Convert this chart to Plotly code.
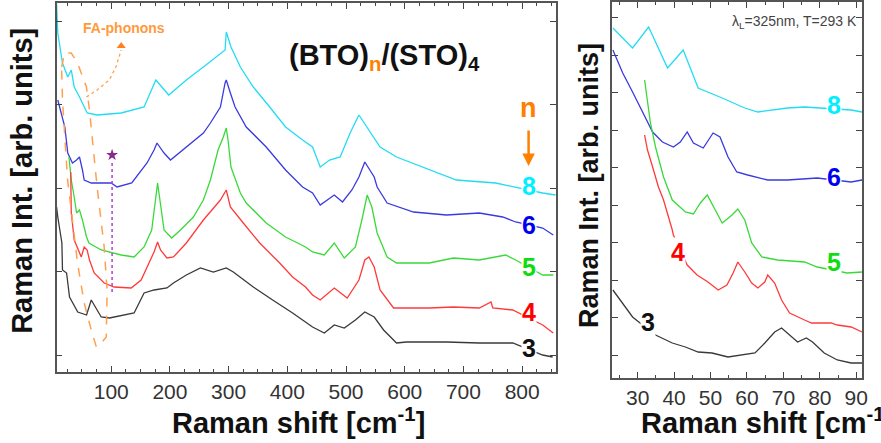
import plotly.graph_objects as go

FONT = "Liberation Sans, Arial, sans-serif"

# ---------------- Left panel data (Raman shift cm^-1, intensity arb.) ----------------
n8_L_x = [7, 8, 9, 17, 26, 32, 37, 46, 59, 76, 117, 156, 168, 176, 198, 228, 257, 286, 294, 296, 304, 320, 342, 370, 397, 426, 443, 456, 472, 490, 507, 522, 536, 558, 586, 642, 688, 755, 794, 835, 857]
n8_L_y = [368, 350, 339, 309, 295, 302, 285, 275, 259, 257, 259, 265, 282, 292, 277, 292, 305, 319, 322, 340, 325, 305, 285, 265, 245, 232, 225, 205, 212, 215, 239, 257, 245, 225, 215, 202, 192, 189, 184, 179, 177]

n6_L_x = [9, 21, 26, 34, 41, 46, 51, 54, 66, 100, 110, 135, 161, 173, 178, 190, 201, 228, 257, 269, 286, 294, 296, 303, 311, 330, 364, 397, 426, 443, 456, 480, 494, 510, 522, 532, 548, 553, 570, 615, 671, 727, 767, 789, 835, 853]
n6_L_y = [272, 245, 219, 209, 212, 215, 202, 192, 189, 189, 185, 189, 209, 222, 229, 219, 212, 225, 239, 249, 265, 289, 292, 279, 265, 245, 225, 202, 185, 179, 167, 177, 170, 182, 195, 210, 195, 185, 169, 160, 157, 159, 155, 150, 144, 137]

n5_L_x = [28, 32, 37, 41, 46, 51, 58, 62, 83, 117, 139, 156, 169, 176, 179, 183, 190, 203, 218, 240, 257, 269, 282, 291, 296, 299, 304, 320, 330, 364, 397, 431, 443, 463, 480, 497, 516, 527, 536, 544, 553, 570, 586, 642, 683, 727, 772, 789, 835, 853]
n5_L_y = [215, 192, 175, 159, 162, 152, 135, 129, 122, 117, 115, 125, 142, 172, 189, 172, 142, 134, 142, 155, 172, 192, 222, 235, 244, 232, 205, 179, 169, 149, 135, 125, 120, 117, 129, 114, 125, 152, 177, 165, 139, 115, 109, 109, 114, 112, 117, 112, 97, 97]

n4_L_x = [31, 32, 37, 49, 54, 59, 63, 71, 88, 105, 134, 151, 173, 179, 184, 195, 206, 228, 257, 286, 296, 303, 325, 353, 387, 409, 431, 443, 456, 480, 502, 522, 532, 539, 548, 558, 581, 642, 683, 727, 747, 750, 784, 835, 853]
n4_L_y = [200, 159, 132, 115, 125, 122, 112, 99, 89, 85, 84, 92, 120, 130, 122, 114, 115, 129, 152, 172, 182, 165, 149, 129, 109, 95, 85, 77, 72, 84, 74, 92, 112, 115, 105, 82, 64, 64, 65, 64, 70, 64, 62, 47, 39]

n3_L_x = [7, 9, 16, 17, 24, 29, 43, 58, 66, 71, 83, 97, 139, 156, 173, 195, 206, 228, 252, 274, 296, 308, 342, 375, 409, 443, 463, 480, 497, 516, 532, 548, 564, 586, 603, 671, 727, 784, 835, 852]
n3_L_y = [165, 155, 129, 102, 99, 75, 60, 57, 72, 67, 55, 54, 59, 79, 82, 84, 89, 97, 104, 100, 104, 100, 85, 72, 59, 45, 39, 47, 44, 52, 60, 55, 42, 29, 30, 30, 29, 29, 17, 15]

# FA-phonon marker ellipse and pointer (left panel units)
fa_ellipse_x = [15.5, 20.6, 32, 42.6, 57.8, 63, 68, 76, 88, 93, 91.6, 83, 74.7, 66, 54, 42.6, 34, 25.7, 17, 15.5]
fa_ellipse_y = [305, 319, 319, 309, 285, 262, 232, 185, 125, 82, 35, 29, 25, 42, 69, 109, 152, 192, 272, 305]
fa_pointer_x = [57.8, 76, 96.6, 108, 117]
fa_pointer_y = [275, 282, 292, 305, 322]
star_x = [101.5, 101.5]
star_y = [80, 212]

# ---------------- Right panel data ----------------
n8_R_x = [23.2, 28.6, 33.0, 38.2, 42.5, 46.6, 53.2, 59.4, 63.0, 71.1, 75.8, 80.4, 88.6, 91.6]
n8_R_y = [350, 330, 351, 310, 328, 290, 280, 270, 266, 270, 271, 270, 268, 266]

n6_R_x = [23.2, 25.9, 28.6, 31.4, 34.1, 36.8, 39.8, 41.7, 43.6, 45.3, 48.0, 50.7, 52.6, 54.8, 57.2, 60.2, 65.7, 71.1, 79.3, 88.6, 91.6]
n6_R_y = [328, 305, 286, 265, 246, 236, 231, 236, 246, 235, 230, 245, 241, 221, 206, 203, 198, 198, 200, 196, 198]

n5_R_x = [31.9, 32.7, 33.5, 34.9, 37.1, 39.5, 40.4, 43.1, 45.3, 47.2, 49.1, 51.3, 53.2, 55.9, 57.5, 59.4, 61.3, 64.1, 68.4, 75.8, 79.3, 87.5, 91.6]
n5_R_y = [298, 278, 255, 231, 201, 178, 175, 166, 164, 175, 183, 168, 155, 163, 169, 158, 135, 121, 118, 116, 111, 105, 106]

n4_R_x = [31.9, 32.7, 34.1, 35.7, 37.1, 38.2, 39.5, 39.8, 43.6, 46.3, 49.3, 52.1, 54.5, 56.2, 57.5, 59.4, 61.3, 63.0, 64.9, 65.7, 67.6, 69.5, 71.7, 75.8, 77.7, 83.1, 84.8, 88.6, 91.6]
n4_R_y = [243, 228, 211, 191, 178, 165, 148, 143, 113, 103, 96, 88, 93, 105, 116, 106, 95, 90, 96, 103, 95, 78, 65, 58, 55, 55, 53, 51, 46]

n3_R_x = [23.2, 25.9, 28.6, 30.3, 34.9, 39.5, 43.1, 46.6, 50.4, 54.8, 58.6, 62.2, 64.9, 67.6, 69.5, 71.1, 73.9, 76.3, 78.0, 81.2, 84.8, 88.6, 91.6]
n3_R_y = [88, 75, 61, 56, 43, 35, 31, 26, 25, 21, 23, 25, 35, 46, 50, 45, 36, 40, 36, 25, 18, 15, 15]

labels = ["8", "6", "5", "4", "3"]
line_colors = ["#22dcf2", "#3a3ae0", "#3ad93a", "#ff3a3a", "#3a3a3a"]
label_colors = ["#00f0ff", "#0000f0", "#10dd10", "#ff0000", "#111111"]

fig = go.Figure()

left_series = [(n8_L_x, n8_L_y), (n6_L_x, n6_L_y), (n5_L_x, n5_L_y), (n4_L_x, n4_L_y), (n3_L_x, n3_L_y)]
right_series = [(n8_R_x, n8_R_y), (n6_R_x, n6_R_y), (n5_R_x, n5_R_y), (n4_R_x, n4_R_y), (n3_R_x, n3_R_y)]

for (xs, ys), col in zip(left_series, line_colors):
    fig.add_trace(go.Scatter(x=xs, y=ys, mode="lines", line=dict(color=col, width=1.3),
                             xaxis="x", yaxis="y", showlegend=False, hoverinfo="skip"))
for (xs, ys), col in zip(right_series, line_colors):
    fig.add_trace(go.Scatter(x=xs, y=ys, mode="lines", line=dict(color=col, width=1.3),
                             xaxis="x2", yaxis="y2", showlegend=False, hoverinfo="skip"))

# FA phonon ellipse
fig.add_trace(go.Scatter(x=fa_ellipse_x, y=fa_ellipse_y, mode="lines", line=dict(color="#ffa050", width=1.5, dash="dash"),
                         xaxis="x", yaxis="y", showlegend=False, hoverinfo="skip"))
fig.add_trace(go.Scatter(x=fa_pointer_x, y=fa_pointer_y, mode="lines", line=dict(color="#ffa050", width=1.3, dash="dot"),
                         xaxis="x", yaxis="y", showlegend=False, hoverinfo="skip"))
fig.add_trace(go.Scatter(x=[fa_pointer_x[-1]], y=[fa_pointer_y[-1] + 4], mode="markers",
                         marker=dict(symbol="triangle-up", size=8, color="#ff8020"),
                         xaxis="x", yaxis="y", showlegend=False, hoverinfo="skip"))
# star line
fig.add_trace(go.Scatter(x=star_x, y=star_y, mode="lines", line=dict(color="#b040d0", width=1.5, dash="dot"),
                         xaxis="x", yaxis="y", showlegend=False, hoverinfo="skip"))
fig.add_trace(go.Scatter(x=[star_x[0]], y=[star_y[1] + 5], mode="markers",
                         marker=dict(symbol="star", size=9, color="#8a2a8a"),
                         xaxis="x", yaxis="y", showlegend=False, hoverinfo="skip"))

axis_common = dict(showline=True, linecolor="#555", linewidth=1.5, mirror="allticks", showgrid=False,
                   zeroline=False, ticks="inside", ticklen=6, tickwidth=1.2, tickcolor="#444",
                   tickfont=dict(family=FONT, size=21, color="#333"))

W, H = 881, 443
fig.update_layout(
    width=W, height=H, margin=dict(l=0, r=0, t=0, b=0),
    paper_bgcolor="white", plot_bgcolor="white",
    xaxis=dict(domain=[57 / W, 560 / W], range=[7, 858], tickvals=[100, 200, 300, 400, 500, 600, 700, 800],
               minor=dict(dtick=25, tick0=0, ticks="inside", ticklen=3, tickcolor="#444"),
               anchor="y", **axis_common),
    yaxis=dict(domain=[(H - 372) / H, (H - 3) / H], range=[0, 369], tick0=17, dtick=83.5,
               showticklabels=False, anchor="x", **axis_common),
    xaxis2=dict(domain=[616 / W, 868 / W], range=[22.9, 91.6], tickvals=[30, 40, 50, 60, 70, 80, 90],
                minor=dict(dtick=5, tick0=0, ticks="inside", ticklen=3, tickcolor="#444"),
                anchor="y2", **axis_common),
    yaxis2=dict(domain=[(H - 378) / H, (H - 2) / H], range=[0, 376], tick0=23, dtick=37.5,
                showticklabels=False, anchor="x2", **axis_common),
)

ann = []
# Axis titles
ann.append(dict(text="<b>Raman shift [cm<sup>-1</sup>]</b>", x=301 / W, y=1 - 421 / H, xref="paper", yref="paper",
                showarrow=False, font=dict(family=FONT, size=29, color="#111"), xanchor="center", yanchor="middle"))
ann.append(dict(text="<b>Raman shift [cm<sup>-1</sup>]</b>", x=643 / W, y=1 - 421 / H, xref="paper", yref="paper",
                showarrow=False, font=dict(family=FONT, size=29, color="#111"), xanchor="left", yanchor="middle"))
ann.append(dict(text="<b>Raman Int. [arb. units]</b>", x=22 / W, y=1 - 181 / H, xref="paper", yref="paper", textangle=-90,
                showarrow=False, font=dict(family=FONT, size=29, color="#111"), xanchor="center", yanchor="middle"))
ann.append(dict(text="<b>Raman Int. [arb. units]</b>", x=593 / W, y=1 - 185 / H, xref="paper", yref="paper", textangle=-90,
                showarrow=False, font=dict(family=FONT, size=27, color="#111"), xanchor="center", yanchor="middle"))

# Title in left panel
ann.append(dict(text="<b>(BTO)<sub><span style='color:#ff8000'>n</span></sub>/(STO)<sub>4</sub></b>",
                x=566, y=315, xref="x", yref="y", showarrow=False,
                font=dict(family=FONT, size=29, color="#111"), xanchor="center", yanchor="middle"))
ann.append(dict(text="<b>FA-phonons</b>", x=121, y=344, xref="x", yref="y", showarrow=False,
                font=dict(family=FONT, size=14, color="#ff9a3c"), xanchor="center", yanchor="middle"))
ann.append(dict(text="<b>n</b>", x=811, y=264, xref="x", yref="y", showarrow=False,
                font=dict(family=FONT, size=27, color="#ff7f00"), xanchor="center", yanchor="middle"))
ann.append(dict(text="", x=811, y=206, ax=811, ay=243, xref="x", yref="y", axref="x", ayref="y",
                showarrow=True, arrowhead=2, arrowsize=1, arrowwidth=2.5, arrowcolor="#ff7f00"))
ann.append(dict(text="λ<sub>L</sub>=325nm, T=293 K", x=90.8, y=356, xref="x2", yref="y2", showarrow=False,
                font=dict(family=FONT, size=14, color="#444"), xanchor="right", yanchor="middle"))

left_label_y = [186, 147, 105, 60, 24]
for t, c, yy in zip(labels, label_colors, left_label_y):
    ann.append(dict(text="<b>%s</b>" % t, x=811, y=yy, xref="x", yref="y", showarrow=False, bgcolor="white",
                    borderpad=0, font=dict(family=FONT, size=25, color=c), xanchor="center", yanchor="middle"))

right_label_pos = [(84, 273), (84, 201), (84, 116), (41.2, 126), (32.7, 56)]
for t, c, (xx, yy) in zip(labels, label_colors, right_label_pos):
    ann.append(dict(text="<b>%s</b>" % t, x=xx, y=yy, xref="x2", yref="y2", showarrow=False, bgcolor="white",
                    borderpad=0, font=dict(family=FONT, size=25, color=c), xanchor="center", yanchor="middle"))

fig.update_layout(annotations=ann)
fig.write_html("out.html", config={"displayModeBar": False},
               post_script="document.body.style.margin='0';document.body.style.overflow='hidden';")
